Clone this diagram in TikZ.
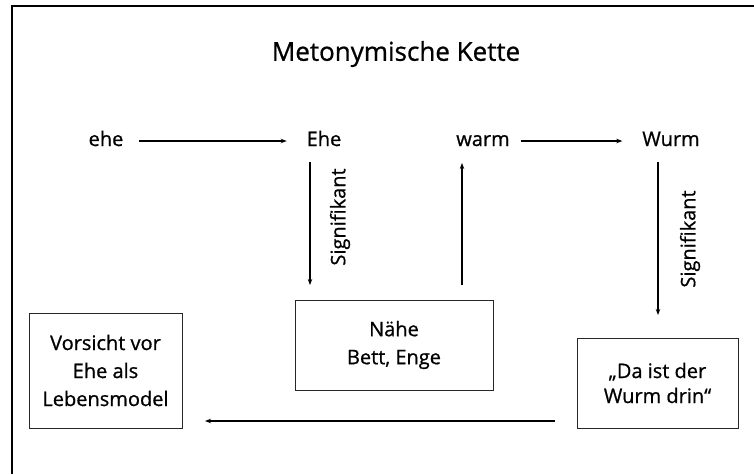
\documentclass[tikz,border=0pt]{standalone}
\usepackage{fontspec}
\setmainfont{Open Sans}[FakeBold=0.8]
\usetikzlibrary{arrows.meta,calc}
\begin{document}
\begin{tikzpicture}[x=1pt,y=-1pt,
  word/.style={inner sep=0pt,outer sep=0pt,text height=14pt,text depth=4pt,font=\fontsize{20}{24}\selectfont},
  lab/.style={inner sep=0pt,rotate=90,font=\fontsize{20}{24}\selectfont},
  box/.style={draw=black!85,line width=0.9pt,inner sep=2pt,outer sep=0pt,align=center,font=\fontsize{20}{28}\selectfont},
  arr/.style={line width=1.4pt,-{Stealth[length=6pt,width=4.5pt]}},
  frame/.style={line width=2pt}]
\useasboundingbox (0,0) rectangle (754,474);
\coordinate (c0) at (12,474);
\coordinate (c1) at (12,6);
\coordinate (c2) at (754,6);
\draw[frame] (c0) -- (c1) -- (c2);
\node[inner sep=0pt,font=\fontsize{26}{30}\selectfont] (title) at (396,54) {Metonymische Kette};
\node[word] (ehe) at (106,141) {ehe};
\node[word] (Ehe) at (324,141) {Ehe};
\node[word] (warm) at (483,141) {warm};
\node[word] (Wurm) at (671,141) {Wurm};
\node[box,minimum width=198pt,minimum height=90pt] (naehe) at (394,345) {Nähe\\Bett, Enge};
\node[box,minimum width=153pt,minimum height=115pt] (vor) at (105.5,370.5) {Vorsicht vor\\Ehe als\\Lebensmodel};
\node[box,minimum width=161pt,minimum height=90pt,font=\fontsize{20}{25}\selectfont] (da) at (657.5,383) {„Da ist der\\Wurm drin“};
\node[lab] (sig1) at (340,217) {Signifikant};
\node[lab] (sig2) at (690,239) {Signifikant};
\coordinate (x1) at (310,0);
\coordinate (x2) at (462,0);
\coordinate (x3) at (658,0);
\coordinate (yb) at (0,421);
\draw[arr,shorten <=16pt,shorten >=20pt] (ehe.east) -- (Ehe.west);
\draw[arr,shorten <=11pt,shorten >=20pt] (warm.east) -- (Wurm.west);
\draw[arr,shorten <=12pt,shorten >=15pt] (Ehe.south -| x1) -- (naehe.north -| x1);
\draw[arr,shorten <=15pt,shorten >=13pt] (naehe.north -| x2) -- (warm.south -| x2);
\draw[arr,shorten <=12pt,shorten >=23pt] (Wurm.south -| x3) -- (da.north -| x3);
\draw[arr,shorten <=22pt,shorten >=23pt] (da.west |- yb) -- (vor.east |- yb);
\end{tikzpicture}
\end{document}
